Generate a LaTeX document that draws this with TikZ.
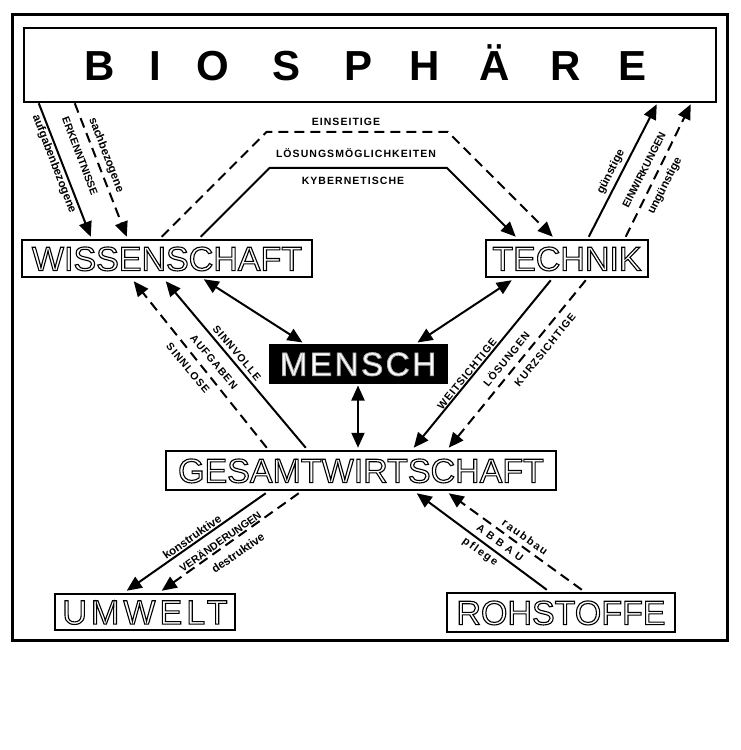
\documentclass[tikz,border=0pt]{standalone}
\usepackage{fontspec}
\setmainfont{Liberation Sans}
\usetikzlibrary{arrows.meta}
\newcommand\hol[1]{\special{pdf:literal direct 1 Tr 1.1 w}#1\special{pdf:literal direct 0 Tr}}
\newcommand\glow[1]{\textcolor{white}{\special{pdf:literal direct 2 Tr 0.9 w 0.7 G}#1\special{pdf:literal direct 0 Tr}}}
\tikzset{
  box/.style={draw, line width=2.5pt, inner sep=0pt, fill=white, text height=24.3pt, text depth=0pt,
    font=\fontsize{34}{34}\selectfont},
  lab/.style={font=\bfseries\fontsize{10.5}{10.5}\selectfont, inner sep=0pt},
  labs/.style={font=\bfseries\fontsize{10.5}{10.5}\selectfont\addfontfeatures{LetterSpace=10}, inner sep=0pt},
  labl/.style={font=\bfseries\fontsize{11.5}{11.5}\selectfont, inner sep=0pt},
  solidarrow/.style={line width=2pt, -{Triangle[length=15pt,width=13pt]}},
  dasharrow/.style={line width=2pt, dash pattern=on 10pt off 6pt, -{Triangle[length=15pt,width=13pt]}},
  dblarrow/.style={line width=2pt, {Triangle[length=15pt,width=13pt]}-{Triangle[length=15pt,width=13pt]}},
}
\begin{document}
\begin{tikzpicture}[x=1pt,y=-1pt]
\useasboundingbox (0,0) rectangle (740,750);
\draw[line width=3pt] (12,14) rectangle (727,640);
% Biosphaere
\node[draw, line width=2.5pt, inner sep=0pt, minimum width=692pt, minimum height=74pt,
  text height=30pt, text depth=0pt, font=\bfseries\fontsize{42}{42}\selectfont] (bio) at (370,65)
  {\makebox[688pt][l]{\hspace{74pt}\makebox[0pt]{B}\hspace{55pt}\makebox[0pt]{I}\hspace{58pt}\makebox[0pt]{O}\hspace{74pt}\makebox[0pt]{S}\hspace{72pt}\makebox[0pt]{P}\hspace{66pt}\makebox[0pt]{H}\hspace{70pt}\makebox[0pt]{Ä}\hspace{71pt}\makebox[0pt]{R}\hspace{67pt}\makebox[0pt]{E}\hfill}};
% boxes
\node[box, minimum width=290pt, minimum height=37pt] (wiss) at (167,258.5) {\hol{WISSENSCHAFT}};
\node[box, minimum width=162pt, minimum height=37pt] (tech) at (567,258.5) {\hol{TECHNIK}};
\node[draw, fill=black, line width=1pt, inner sep=0pt, minimum width=178pt, minimum height=39pt,
  text height=24.3pt, text depth=0pt, font=\fontsize{33}{33}\selectfont\addfontfeatures{LetterSpace=8}] (mensch) at (358,363.5)
  {\glow{MENSCH}};
\node[box, minimum width=390pt, minimum height=39pt] (gesamt) at (361,470.5) {\hol{GESAMTWIRTSCHAFT}};
\node[box, minimum width=180pt, minimum height=36pt, font=\fontsize{34}{34}\selectfont\addfontfeatures{LetterSpace=12}] (umwelt) at (145,612) {\hol{UMWELT}};
\node[box, minimum width=228pt, minimum height=39pt] (roh) at (561,612.5) {\hol{ROHSTOFFE}};
% Biosphaere -> Wissenschaft
\draw[solidarrow] ([xshift=16pt]bio.south west) -- ([xshift=70pt,yshift=2pt]wiss.north west);
\draw[dasharrow] ([xshift=52pt]bio.south west) -- ([xshift=106pt,yshift=2pt]wiss.north west);
\node[labl, rotate=-69] (l1) at (54,164) {aufgabenbezogene};
\node[lab, rotate=-69] (l2) at (80,156) {ERKENNTNISSE};
\node[labl, rotate=-69] (l3) at (106,155) {sachbezogene};
% Wissenschaft -> Technik
\draw[dasharrow] ([xshift=141pt,yshift=2pt]wiss.north west) -- ++(105,-105) -- ++(181,0) -- ([xshift=68pt,yshift=2pt]tech.north west);
\draw[solidarrow] ([xshift=180pt,yshift=2pt]wiss.north west) -- ++(69,-69) -- ++(177,0) -- ([xshift=31pt,yshift=2pt]tech.north west);
\node[labs] (l4) at (346,122) {EINSEITIGE};
\node[labs] (l5) at (356,153) {LÖSUNGSMÖGLICHKEITEN};
\node[labs] (l6) at (353,181) {KYBERNETISCHE};
% Mensch links
\draw[dblarrow] ([xshift=183pt,yshift=-1pt]wiss.south west) -- ([xshift=34pt,yshift=1pt]mensch.north west);
\draw[dblarrow] ([xshift=27pt,yshift=-2pt]tech.south west) -- ([xshift=149pt,yshift=1pt]mensch.north west);
\draw[dblarrow] ([yshift=-2pt]mensch.south) -- ([xshift=-3pt,yshift=2pt]gesamt.north);
% Gesamtwirtschaft -> Wissenschaft
\draw[solidarrow] ([xshift=141pt,yshift=2pt]gesamt.north west) -- ([xshift=145pt,yshift=-3pt]wiss.south west);
\draw[dasharrow] ([xshift=102pt,yshift=2pt]gesamt.north west) -- ([xshift=113pt,yshift=-3pt]wiss.south west);
\node[labs, rotate=-50] (l7) at (237,353) {SINNVOLLE};
\node[labs, rotate=-50] (l8) at (214,362) {AUFGABEN};
\node[labs, rotate=-50] (l9) at (188,368) {SINNLOSE};
% Technik -> Gesamtwirtschaft
\draw[solidarrow] ([xshift=66pt,yshift=-2pt]tech.south west) -- ([xshift=249pt,yshift=2pt]gesamt.north west);
\draw[dasharrow] ([xshift=101pt,yshift=-2pt]tech.south west) -- ([xshift=284pt,yshift=2pt]gesamt.north west);
\node[labs, rotate=51] (l10) at (467,374) {WEITSICHTIGE};
\node[labs, rotate=51] (l11) at (506,359) {LÖSUNGEN};
\node[labs, rotate=51] (l12) at (545,350) {KURZSICHTIGE};
% Technik -> Biosphaere
\draw[solidarrow] ([xshift=104pt,yshift=2pt]tech.north west) -- ([xshift=634pt,yshift=-1pt]bio.south west);
\draw[dasharrow] ([xshift=141pt,yshift=2pt]tech.north west) -- ([xshift=668pt,yshift=-1pt]bio.south west);
\node[labl, rotate=63] (l13) at (611,172) {günstige};
\node[lab, rotate=63] (l14) at (644,170) {EINWIRKUNGEN};
\node[labl, rotate=63] (l15) at (665,186) {ungünstige};
% Gesamtwirtschaft -> Umwelt
\draw[solidarrow] ([xshift=101pt,yshift=-2pt]gesamt.south west) -- ([xshift=73pt,yshift=2pt]umwelt.north west);
\draw[dasharrow] ([xshift=134pt,yshift=-2pt]gesamt.south west) -- ([xshift=108pt,yshift=2pt]umwelt.north west);
\node[labl, rotate=35] (l16) at (192,537) {konstruktive};
\node[lab, rotate=35] (l17) at (220,541) {VERÄNDERUNGEN};
\node[labl, rotate=35] (l18) at (238,553) {destruktive};
% Rohstoffe -> Gesamtwirtschaft
\draw[solidarrow] ([xshift=101pt,yshift=2pt]roh.north west) -- ([xshift=252pt,yshift=-2pt]gesamt.south west);
\draw[dasharrow] ([xshift=136pt,yshift=2pt]roh.north west) -- ([xshift=284pt,yshift=-2pt]gesamt.south west);
\node[labl, rotate=-36, font=\bfseries\fontsize{11}{11}\selectfont\addfontfeatures{LetterSpace=15}] (l19) at (525,537) {raubbau};
\node[lab, rotate=-36, font=\bfseries\fontsize{10.5}{10.5}\selectfont\addfontfeatures{LetterSpace=40}] (l20) at (500,543) {ABBAU};
\node[labl, rotate=-36, font=\bfseries\fontsize{11}{11}\selectfont\addfontfeatures{LetterSpace=15}] (l21) at (480,552) {pflege};
\end{tikzpicture}
\end{document}
